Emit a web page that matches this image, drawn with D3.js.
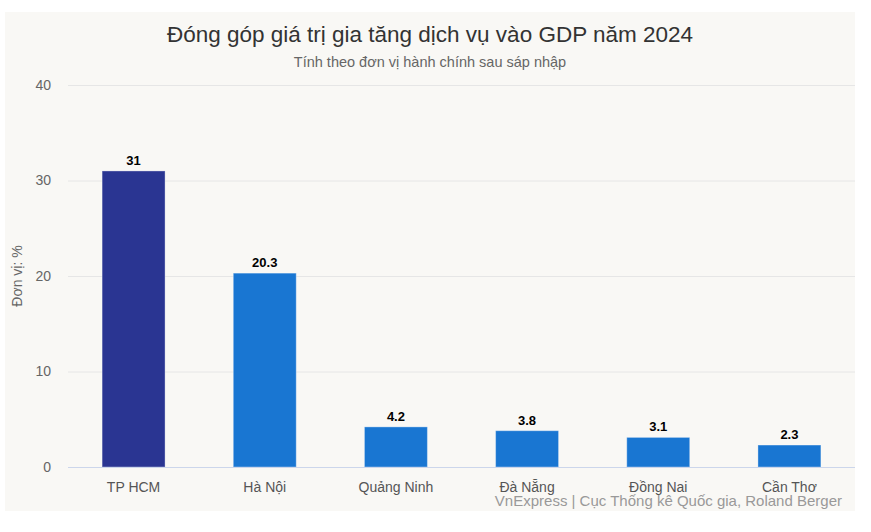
<!DOCTYPE html>
<html>
<head>
<meta charset="utf-8">
<script src="https://cdn.jsdelivr.net/npm/d3@7"></script>
<style>
  body { margin: 0; background: #fff; }
  text { font-family: "Liberation Sans", Arial, Helvetica, sans-serif; }
</style>
</head>
<body>
<script>
// chart data
const categories = ["TP HCM", "Hà Nội", "Quảng Ninh", "Đà Nẵng", "Đồng Nai", "Cần Thơ"];
const values = [31, 20.3, 4.2, 3.8, 3.1, 2.3];
const yTicks = [0, 10, 20, 30, 40];

const W = 871, H = 532;
const m = {left: 68, right: 855, top: 85, bottom: 467};

const svg = d3.select("body").append("svg")
    .attr("width", W).attr("height", H);

// panel background
svg.append("rect")
    .attr("x", 5).attr("y", 12)
    .attr("width", 850).attr("height", 499)
    .attr("fill", "#f9f8f5");

const x = d3.scaleBand()
    .domain(categories)
    .range([m.left, m.right])
    .paddingInner(0.52).paddingOuter(0.26);

const y = d3.scaleLinear().domain([0, 40]).range([m.bottom, m.top]);

// gridlines
svg.append("g").selectAll("line")
    .data(yTicks.filter(d => d > 0))
    .join("line")
    .attr("x1", m.left).attr("x2", m.right)
    .attr("y1", d => y(d) + 0.5).attr("y2", d => y(d) + 0.5)
    .attr("stroke", "#e6e6e6");

// y axis labels
const yAxis = svg.append("g")
    .attr("transform", `translate(${m.left},0)`)
    .call(d3.axisLeft(y).tickValues(yTicks).tickSize(0).tickPadding(17));
yAxis.select(".domain").remove();
yAxis.selectAll("text").attr("fill", "#666").style("font-size", "14px");

svg.append("text")
    .attr("transform", "translate(22,276) rotate(-90)")
    .attr("text-anchor", "middle")
    .attr("fill", "#666").style("font-size", "14px")
    .text("Đơn vị: %");

// bars
svg.append("g").selectAll("rect")
    .data(values)
    .join("rect")
    .attr("x", (d, i) => x(categories[i]))
    .attr("y", d => y(d))
    .attr("width", x.bandwidth())
    .attr("height", d => y(0) - y(d))
    .attr("fill", (d, i) => i === 0 ? "#2a3592" : "#1976d2")
    .attr("stroke", "rgba(255,255,255,0.35)").attr("stroke-width", 1);

// data labels
svg.append("g").selectAll("text")
    .data(values)
    .join("text")
    .attr("x", (d, i) => x(categories[i]) + x.bandwidth() / 2)
    .attr("y", d => y(d) - 6)
    .attr("text-anchor", "middle")
    .attr("fill", "#000").style("font-size", "13px").style("font-weight", "bold")
    .text(d => d);

// x axis
svg.append("line")
    .attr("x1", m.left).attr("x2", m.right)
    .attr("y1", m.bottom + 0.5).attr("y2", m.bottom + 0.5)
    .attr("stroke", "#ccd6eb");

svg.append("g").selectAll("text")
    .data(categories)
    .join("text")
    .attr("x", d => x(d) + x.bandwidth() / 2)
    .attr("y", 492)
    .attr("text-anchor", "middle")
    .attr("fill", "#555").style("font-size", "14px")
    .text(d => d);

// titles
svg.append("text")
    .attr("x", 430).attr("y", 42)
    .attr("text-anchor", "middle")
    .attr("fill", "#333").style("font-size", "22.5px")
    .text("Đóng góp giá trị gia tăng dịch vụ vào GDP năm 2024");

svg.append("text")
    .attr("x", 430).attr("y", 67)
    .attr("text-anchor", "middle")
    .attr("fill", "#666").style("font-size", "14.5px")
    .text("Tính theo đơn vị hành chính sau sáp nhập");

// credits
svg.append("text")
    .attr("x", 842).attr("y", 506)
    .attr("text-anchor", "end")
    .attr("fill", "#999").style("font-size", "15px")
    .text("VnExpress | Cục Thống kê Quốc gia, Roland Berger");
</script>
</body>
</html>
